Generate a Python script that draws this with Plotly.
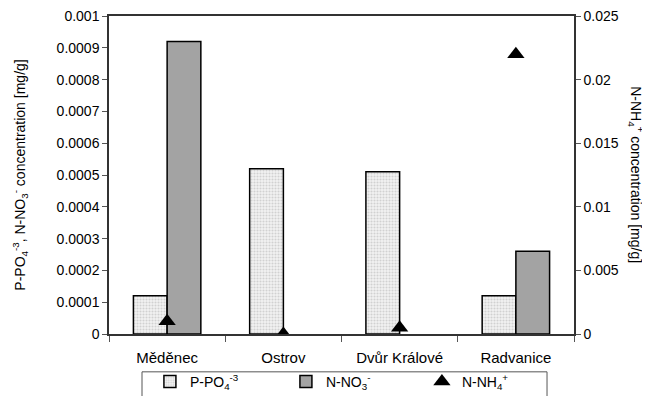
import plotly.graph_objects as go

categories = ["Měděnec", "Ostrov", "Dvůr Králové", "Radvanice"]
p_po4 = [0.00012, 0.00052, 0.00051, 0.00012]
n_no3 = [0.00092, None, None, 0.00026]
n_nh4 = [0.001, 0.0, 0.0005, 0.022]

left_ticks = [0, 0.0001, 0.0002, 0.0003, 0.0004, 0.0005, 0.0006, 0.0007, 0.0008, 0.0009, 0.001]
left_labels = ["0", "0.0001", "0.0002", "0.0003", "0.0004", "0.0005", "0.0006", "0.0007", "0.0008", "0.0009", "0.001"]
right_ticks = [0, 0.005, 0.01, 0.015, 0.02, 0.025]
right_labels = ["0", "0.005", "0.01", "0.015", "0.02", "0.025"]

font = "Liberation Sans, Arial, sans-serif"

fig = go.Figure()
fig.add_trace(go.Bar(
    x=categories, y=p_po4, name="P-PO<sub>4</sub><sup>-3</sup>",
    marker=dict(color="white", line=dict(color="black", width=1.5),
                pattern=dict(shape=".", fgcolor="#b0b0b0", bgcolor="#f2f2f2", size=3, solidity=0.4)),
))
fig.add_trace(go.Bar(
    x=categories, y=n_no3, name="N-NO<sub>3</sub><sup>-</sup>",
    marker=dict(color="#a3a3a3", line=dict(color="black", width=1.5)),
))
fig.add_trace(go.Scatter(
    x=categories, y=n_nh4, name="N-NH<sub>4</sub><sup>+</sup>", yaxis="y2",
    mode="markers", marker=dict(symbol="triangle-up", size=15, color="black"),
))

# page body has an 8px margin, so the figure is 8px smaller and offset
fig.update_layout(
    width=642, height=388,
    margin=dict(l=101, r=76, t=8, b=62, autoexpand=False),
    paper_bgcolor="white", plot_bgcolor="white",
    font=dict(family=font, size=14, color="black"),
    barmode="group", bargap=0.42, bargroupgap=0,
    showlegend=True,
    legend=dict(orientation="h", x=0.088, xanchor="left", y=-0.10, yanchor="top",
                borderwidth=0, entrywidth=91, bgcolor="rgba(0,0,0,0)",
                font=dict(size=14, family=font), itemwidth=30,
                traceorder="normal"),
    xaxis=dict(showline=True, linecolor="#333", linewidth=1.5, mirror=True, automargin=False,
               ticks="outside", ticklen=6, tickcolor="#555", tickson="boundaries",
               ticklabelstandoff=9,
               tickfont=dict(size=15, family=font), showgrid=False),
    yaxis=dict(range=[0, 0.001], tickvals=left_ticks, ticktext=left_labels, automargin=False,
               showline=True, linecolor="#333", linewidth=1.5, ticklabeloverflow="allow",
               ticks="outside", ticklen=5, tickcolor="#555", showgrid=False, zeroline=False,
               title=dict(text="P-PO<sub>4</sub><sup>-3</sup>, N-NO<sub>3</sub><sup>-</sup> concentration [mg/g]",
                          font=dict(size=14, family=font), standoff=28)),
    yaxis2=dict(range=[0, 0.025], tickvals=right_ticks, ticktext=right_labels, automargin=False,
                overlaying="y", side="right", showline=True, linecolor="#333", linewidth=1.5,
                ticklabeloverflow="allow",
                ticks="outside", ticklen=5, tickcolor="#555", showgrid=False, zeroline=False),
    annotations=[dict(text="N-NH<sub>4</sub><sup>+</sup> concentration [mg/g]", textangle=90,
                      xref="paper", yref="paper", x=1.133, y=0.5, xanchor="center", yanchor="middle",
                      showarrow=False, font=dict(size=14, family=font))],
    shapes=[dict(type="rect", xref="paper", yref="paper", x0=0.071, x1=0.942, y0=-0.119, y1=-0.25,
                 line=dict(color="#555", width=1), fillcolor="rgba(0,0,0,0)")],
)

fig.write_html("out.html")
